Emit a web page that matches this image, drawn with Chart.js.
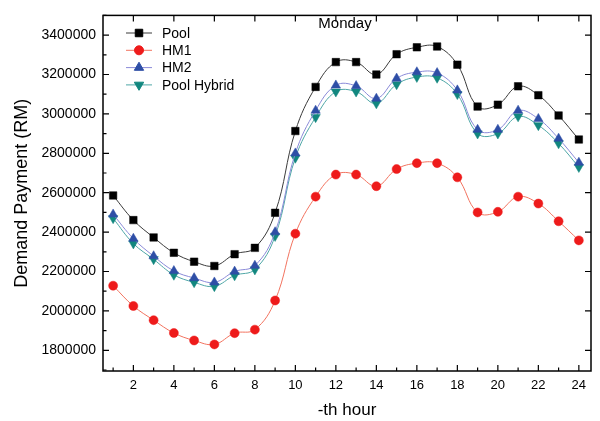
<!DOCTYPE html>
<html>
<head>
<meta charset="utf-8">
<script src="https://cdn.jsdelivr.net/npm/chart.js@4.4.1/dist/chart.umd.min.js"></script>
<style>
  html, body { margin: 0; padding: 0; background: #fff; }
  #wrap { width: 600px; height: 421px; }
</style>
</head>
<body>
<div id="wrap"><canvas id="chart" width="600" height="421"></canvas></div>
<script>
// --- DATA ---
const hours = [1, 2, 3, 4, 5, 6, 7, 8, 9, 10, 11, 12, 13, 14, 15, 16, 17, 18, 19, 20, 21, 22, 23, 24];
const pool = [2586000, 2461000, 2373000, 2295000, 2250000, 2228000, 2288000, 2320000, 2498000, 2913000, 3137000, 3263000,
              3263000, 3200000, 3303000, 3338000, 3342000, 3250000, 3037000, 3047000, 3140000, 3095000, 2992000, 2870000];
const hm1 = [2128000, 2025000, 1953000, 1888000, 1850000, 1830000, 1887000, 1905000, 2053000, 2392000, 2580000, 2692000,
             2692000, 2633000, 2720000, 2750000, 2750000, 2678000, 2500000, 2503000, 2580000, 2545000, 2455000, 2358000];
const hm2 = [2490000, 2367000, 2278000, 2203000, 2167000, 2145000, 2200000, 2230000, 2400000, 2800000, 3017000, 3145000,
             3142000, 3078000, 3180000, 3212000, 3208000, 3120000, 2920000, 2920000, 3017000, 2975000, 2875000, 2753000];
const poolHybrid = [2470000, 2342000, 2262000, 2183000, 2145000, 2125000, 2180000, 2210000, 2380000, 2777000, 2983000, 3113000,
                    3113000, 3053000, 3150000, 3187000, 3183000, 3100000, 2900000, 2900000, 2987000, 2942000, 2850000, 2730000];
const xTickLabels = [2, 4, 6, 8, 10, 12, 14, 16, 18, 20, 22, 24];
const yTickLabels = [1800000, 2000000, 2200000, 2400000, 2600000, 2800000, 3000000, 3200000, 3400000];
const seriesNames = ['Pool', 'HM1', 'HM2', 'Pool Hybrid'];
const chartTitle = 'Monday';

const FONT = '"Liberation Sans", Arial, sans-serif';

// --- STYLES ---
const styles = [
    { line: '#3a3a3a', mark: '#000000', shape: 'rect', radius: 5.3, rotation: 0 },
    { line: '#f2735f', mark: '#ee1b1b', shape: 'circle', radius: 4.5, rotation: 0 },
    { line: '#8a8ad8', mark: '#2e4ea6', shape: 'triangle', radius: 5.4, rotation: 0 },
    { line: '#4ea6a6', mark: '#12877f', shape: 'triangle', radius: 5.4, rotation: 180 },
];
const seriesData = [pool, hm1, hm2, poolHybrid];

function makeDataset(i) {
    const s = styles[i];
    return {
        label: seriesNames[i],
        data: hours.map((h, k) => ({ x: h, y: seriesData[i][k] })),
        borderColor: s.line,
        borderWidth: 1,
        backgroundColor: s.mark,
        pointBackgroundColor: s.mark,
        pointBorderColor: s.mark,
        pointBorderWidth: 0.5,
        pointStyle: s.shape,
        pointRadius: s.radius,
        pointRotation: s.rotation,
        tension: 0.4,
        fill: false,
    };
}

// --- FRAME, INWARD TICKS, LEGEND, TITLE ---
const decorPlugin = {
    id: 'decor',
    afterDraw(chart) {
        const { ctx, chartArea: a, scales } = chart;
        const xs = scales.x, ys = scales.y;
        ctx.save();
        ctx.strokeStyle = '#000';
        ctx.lineWidth = 1.5;
        ctx.strokeRect(a.left, a.top, a.right - a.left, a.bottom - a.top);

        ctx.lineWidth = 1.2;
        ctx.beginPath();
        hours.forEach(h => {
            const px = xs.getPixelForValue(h);
            const len = h % 2 === 0 ? 6 : 3.5;
            ctx.moveTo(px, a.bottom);
            ctx.lineTo(px, a.bottom - len);
            if (h % 2 === 0) {
                ctx.moveTo(px, a.top);
                ctx.lineTo(px, a.top + 6);
            }
        });
        for (let v = 1700000; v <= 3500000; v += 100000) {
            const py = ys.getPixelForValue(v);
            const major = v % 200000 === 0;
            ctx.moveTo(a.left, py);
            ctx.lineTo(a.left + (major ? 6 : 3.5), py);
            if (major) {
                ctx.moveTo(a.right, py);
                ctx.lineTo(a.right - 6, py);
            }
        }
        ctx.stroke();

        // title inside plot
        ctx.fillStyle = '#000';
        ctx.font = '15px ' + FONT;
        ctx.textAlign = 'center';
        ctx.textBaseline = 'middle';
        ctx.fillText(chartTitle, 345, 24);

        // legend
        ctx.font = '14px ' + FONT;
        ctx.textAlign = 'left';
        chart.data.datasets.forEach((ds, i) => {
            const y = 33 + i * 17.3;
            const s = styles[i];
            ctx.strokeStyle = s.line;
            ctx.lineWidth = 1;
            ctx.beginPath();
            ctx.moveTo(126, y);
            ctx.lineTo(152, y);
            ctx.stroke();
            ctx.fillStyle = s.mark;
            ctx.strokeStyle = s.mark;
            Chart.helpers.drawPoint(ctx, { pointStyle: s.shape, radius: s.radius, rotation: s.rotation, borderWidth: 0.5 }, 139, y);
            ctx.fillStyle = '#000';
            ctx.fillText(ds.label, 162, y + 1);
        });
        ctx.restore();
    }
};

// --- CHART ---
new Chart(document.getElementById('chart').getContext('2d'), {
    type: 'line',
    data: { datasets: seriesData.map((_, i) => makeDataset(i)) },
    plugins: [decorPlugin],
    options: {
        responsive: false,
        animation: false,
        layout: { padding: { top: 10, right: 9, left: 0, bottom: 0 } },
        plugins: { legend: { display: false }, tooltip: { enabled: false } },
        scales: {
            x: {
                type: 'linear',
                min: 0.5,
                max: 24.6,
                grid: { display: false, drawTicks: false },
                border: { display: false },
                afterBuildTicks: s => { s.ticks = xTickLabels.map(v => ({ value: v })); },
                afterFit: s => { s.height = 50; },
                ticks: { color: '#000', font: { family: FONT, size: 13 }, padding: 7, maxRotation: 0, autoSkip: false },
                title: { display: true, text: '-th hour', color: '#000', font: { family: FONT, size: 17 }, padding: { top: 4, bottom: 0 } },
            },
            y: {
                min: 1695000,
                max: 3500000,
                grid: { display: false, drawTicks: false },
                border: { display: false },
                afterBuildTicks: s => { s.ticks = yTickLabels.map(v => ({ value: v })); },
                afterFit: s => { s.width = 103; },
                ticks: { color: '#000', font: { family: FONT, size: 14 }, padding: 7, autoSkip: false, callback: v => String(v) },
                title: { display: true, text: 'Demand Payment (RM)', color: '#000', font: { family: FONT, size: 18 }, padding: { top: 11, bottom: 0 } },
            },
        },
    },
});
</script>
</body>
</html>
